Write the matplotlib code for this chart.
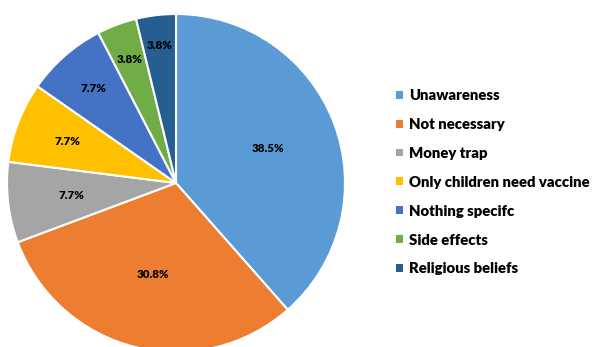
import matplotlib
matplotlib.use("Agg")
import matplotlib.pyplot as plt
import numpy as np
from matplotlib.patches import Patch

categories = ["Unawareness", "Not necessary", "Money trap", "Only children need vaccine",
              "Nothing specifc", "Side effects", "Religious beliefs"]
values = [38.5, 30.8, 7.7, 7.7, 7.7, 3.8, 3.8]
colors = ["#5B9BD5", "#ED7D31", "#A5A5A5", "#FFC000", "#4472C4", "#70AD47", "#255E91"]
label_radius = [0.58, 0.56, 0.62, 0.69, 0.74, 0.78, 0.82]

plt.rcParams['font.family'] = ['Lato', 'DejaVu Sans']

fig = plt.figure(figsize=(5.98, 3.47), dpi=100)
ax = fig.add_axes([7/598, -5/347, 338/598, 338/347])
wedges, _ = ax.pie(values, colors=colors, startangle=90, counterclock=False,
                   wedgeprops=dict(edgecolor="white", linewidth=1.5), radius=1)
for w, v, r in zip(wedges, values, label_radius):
    ang = np.deg2rad((w.theta1 + w.theta2) / 2)
    ax.text(r * np.cos(ang), r * np.sin(ang), f"{v:.1f}%", ha="center", va="center",
            fontsize=8.3, fontweight="heavy", color="black")
ax.set_xlim(-1, 1)
ax.set_ylim(-1, 1)
ax.set_aspect("equal")
ax.axis("off")

handles = [Patch(facecolor=c, edgecolor="none") for c in colors]
fig.legend(handles, categories, loc="upper left", bbox_to_anchor=(396/598, 1 - 89/347),
           frameon=False, prop=dict(family="Lato", weight="heavy", size=10.7),
           handlelength=0.44, handleheight=0.44, handletextpad=0.45, labelspacing=1.07,
           borderaxespad=0, borderpad=0)
fig.savefig("out.png", dpi=100)
